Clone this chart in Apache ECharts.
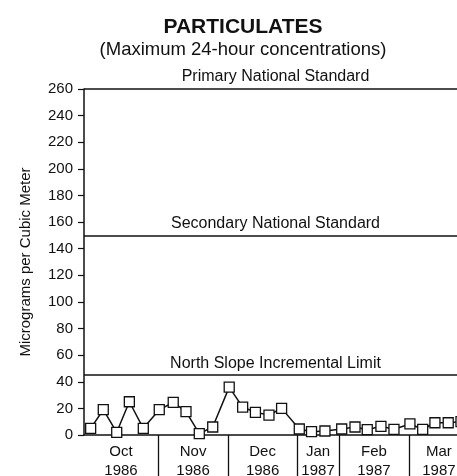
<!DOCTYPE html>
<html><head><meta charset="utf-8">
<script src="https://cdn.jsdelivr.net/npm/echarts@6/dist/echarts.min.js"></script>
<style>html,body{margin:0;padding:0;background:#fff}#c{width:457px;height:476px}</style>
</head><body><div id="c"></div>
<script>
// Sample positions along the time axis (in sample-slot units)
const sampleX = [0.50, 1.45, 2.46, 3.41, 4.46, 5.66, 6.71, 7.67, 8.67, 9.68,
  10.92, 11.93, 12.89, 13.91, 14.86, 16.19, 17.11, 18.12, 19.38, 20.38,
  21.30, 22.33, 23.31, 24.51, 25.47, 26.39, 27.39, 28.35];
// Maximum 24-hour particulate concentrations (micrograms per cubic meter)
const values = [5, 19, 2, 25, 5, 19, 24.5, 17.5, 1, 6,
  36, 21, 17, 15, 20, 4.5, 2.5, 3, 4.5, 6,
  4, 6.5, 4.3, 8.3, 4.3, 9.2, 9.2, 10];
// Month boundaries and label positions
const monthBounds = [5.56, 10.83, 16.02, 19.17, 24.44];
const monthCenters = [2.78, 8.2, 13.43, 17.6, 21.8, 26.69];
const monthLabels = ['Oct\n1986', 'Nov\n1986', 'Dec\n1986', 'Jan\n1987', 'Feb\n1987', 'Mar\n1987'];
// Standards
const standardValues = [260, 150, 45];
const standardNames = ['Primary National Standard', 'Secondary National Standard', 'North Slope Incremental Limit'];

const FONT = "'Liberation Sans', Arial, Helvetica, sans-serif";
const INK = '#111';

const chart = echarts.init(document.getElementById('c'), null, {renderer: 'canvas'});
chart.setOption({
  animation: false,
  backgroundColor: '#fff',
  title: [{
    text: 'PARTICULATES',
    left: 243,
    top: 17,
    padding: 0,
    textAlign: 'center',
    textStyle: {fontFamily: FONT, fontSize: 21, fontWeight: 'bold', color: INK}
  }, {
    text: '(Maximum 24-hour concentrations)',
    left: 243,
    top: 40,
    padding: 0,
    textAlign: 'center',
    textStyle: {fontFamily: FONT, fontSize: 18.5, fontWeight: 'normal', color: INK}
  }],
  grid: {left: 84, right: 0, top: 89, bottom: 41, containLabel: false, outerBoundsMode: 'none'},
  xAxis: {
    type: 'value',
    min: 0,
    max: 28.05,
    axisLine: {show: true, lineStyle: {color: INK, width: 1.5}},
    axisTick: {show: true, customValues: monthBounds, length: 45, inside: false,
      lineStyle: {color: INK, width: 1.3}},
    axisLabel: {
      customValues: monthCenters,
      margin: 7,
      fontFamily: FONT, fontSize: 15, lineHeight: 19, color: INK,
      formatter: function (v) {
        let best = 0, d = Infinity;
        monthCenters.forEach((c, i) => { if (Math.abs(c - v) < d) { d = Math.abs(c - v); best = i; } });
        return monthLabels[best];
      }
    },
    splitLine: {show: false}
  },
  yAxis: {
    type: 'value',
    min: 0,
    max: 260,
    interval: 20,
    name: 'Micrograms per Cubic Meter',
    nameLocation: 'middle',
    nameGap: 51,
    nameRotate: 90,
    nameTextStyle: {fontFamily: FONT, fontSize: 15, color: INK},
    axisLine: {show: true, lineStyle: {color: INK, width: 1.5}},
    axisTick: {show: true, length: 6, lineStyle: {color: INK, width: 1.2}},
    axisLabel: {margin: 11, fontFamily: FONT, fontSize: 15, color: INK},
    splitLine: {show: false}
  },
  series: [{
    type: 'line',
    data: sampleX.map((x, i) => [x, values[i]]),
    clip: false,
    symbol: 'rect',
    symbolSize: 10,
    showAllSymbol: true,
    lineStyle: {color: INK, width: 1.5},
    itemStyle: {color: '#fff', borderColor: INK, borderWidth: 1.3},
    markLine: {
      silent: true,
      symbol: 'none',
      lineStyle: {color: INK, width: 1.5, type: 'solid'},
      label: {
        position: 'insideMiddleTop',
        distance: 4,
        offset: [5, 0],
        fontFamily: FONT, fontSize: 16, color: INK
      },
      data: standardValues.map((v, i) => ({yAxis: v, label: {formatter: standardNames[i]}}))
    },
    z: 3
  }]
});
</script>
</body></html>
